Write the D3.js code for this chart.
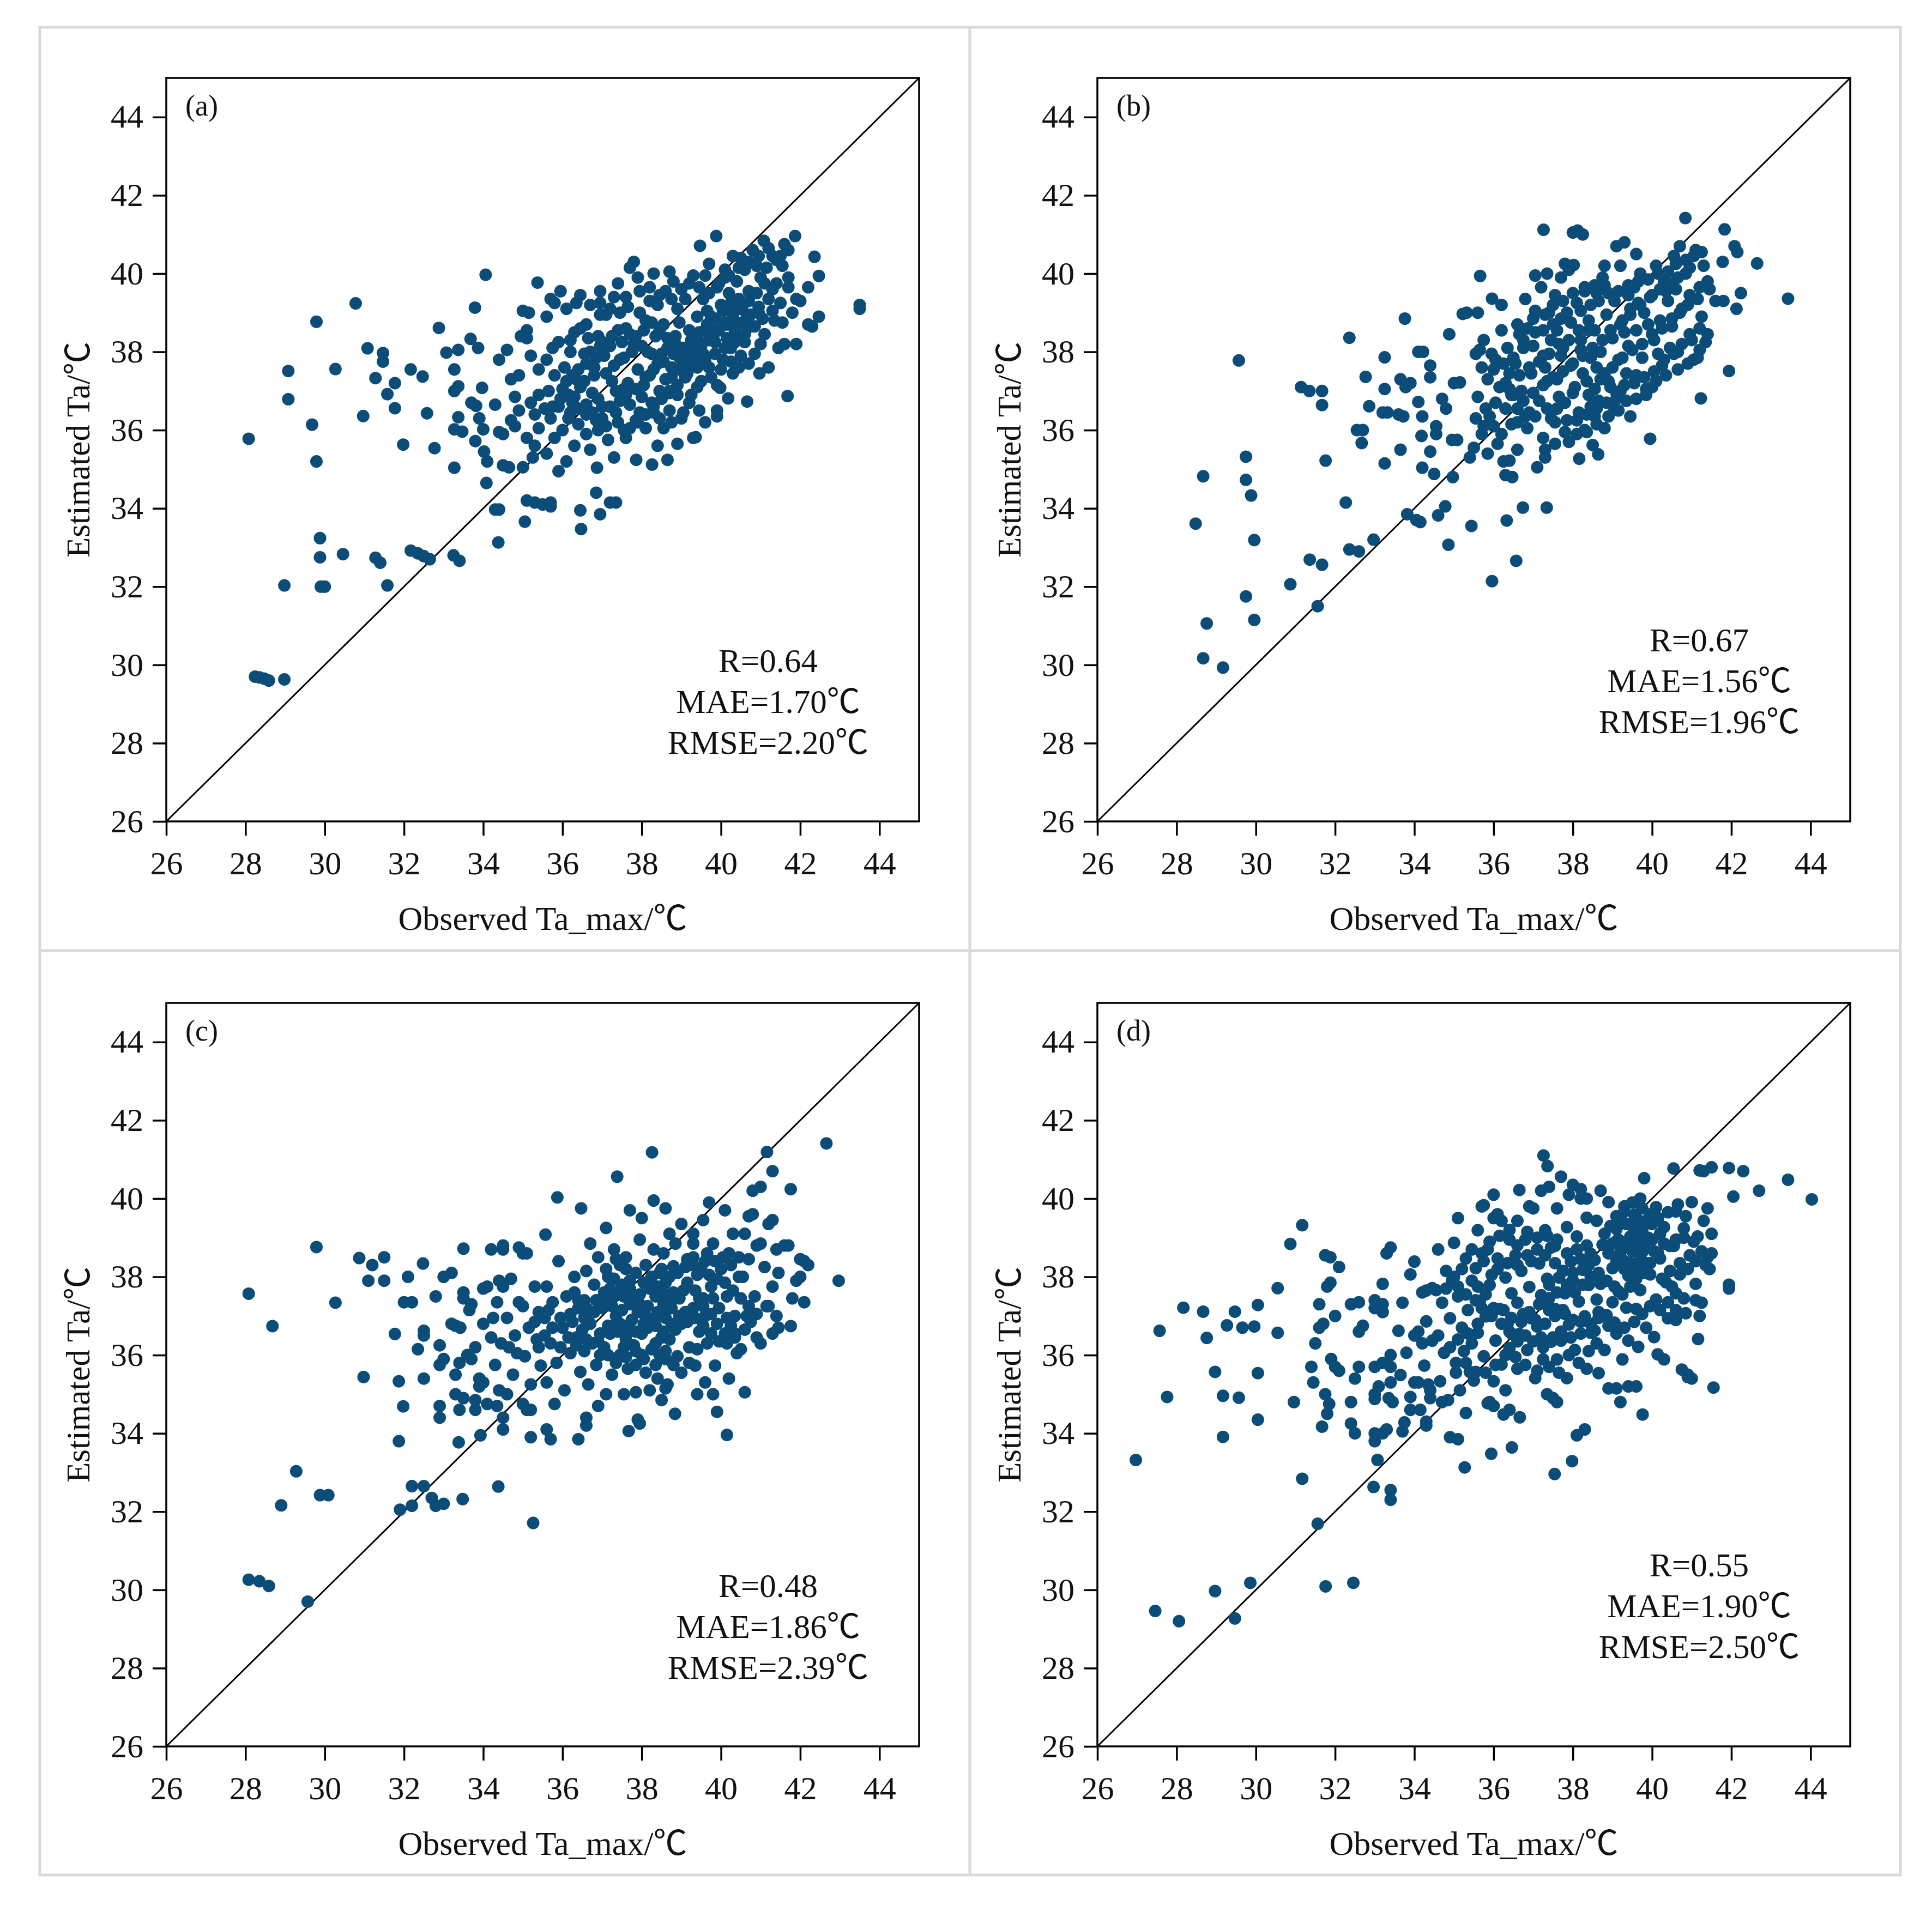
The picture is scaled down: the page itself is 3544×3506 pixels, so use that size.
<!DOCTYPE html>
<html>
<head>
<meta charset="utf-8">
<script src="https://cdn.jsdelivr.net/npm/d3@7"></script>
<style>
  html, body { margin: 0; padding: 0; background: #ffffff; }
  svg { display: block; }
</style>
</head>
<body>
<script>
// ---------------- DATA ----------------
const panelLabels = ["(a)", "(b)", "(c)", "(d)"];
const rValues = ["0.64", "0.67", "0.48", "0.55"];
const maeValues = ["1.70", "1.56", "1.86", "1.90"];
const rmseValues = ["2.20", "1.96", "2.39", "2.50"];
const tickValues = [26, 28, 30, 32, 34, 36, 38, 40, 42, 44];
const axisDomain = [26, 45];
const xLabel = "Observed Ta_max/℃";
const yLabel = "Estimated Ta/℃";

// [observed, estimated]
const panelA = [
[28.08,35.78],[29.79,38.77],[29.08,37.51],[29.08,36.79],[29.68,36.14],[29.79,35.2],[29.88,33.24],[29.88,32.75],[29.9,32.0],[30.0,32.0],[28.98,32.03],[30.46,32.83],[28.24,29.7],[28.35,29.68],[28.47,29.65],[28.59,29.6],[28.98,29.63],[30.78,39.24],[31.08,38.09],[30.27,37.56],[30.97,36.36],[31.28,37.33],[31.47,37.97],[31.47,37.75],[31.58,36.92],[31.77,37.2],[31.77,36.56],[31.98,35.63],[32.17,37.55],[32.47,37.37],[32.58,36.43],[32.77,35.54],[32.88,38.61],[33.07,37.98],[33.27,37.55],[33.37,38.05],[33.27,37.0],[33.37,37.12],[33.27,36.02],[33.37,36.33],[33.27,35.04],[33.47,35.96],[31.28,32.74],[31.4,32.61],[31.58,32.03],[32.17,32.92],[32.35,32.85],[32.5,32.78],[32.65,32.7],[33.25,32.8],[33.4,32.66],
[34.06,39.97],[33.79,39.13],[33.68,38.33],[33.87,38.1],[33.97,37.08],[33.7,36.7],[33.82,36.62],[33.9,36.3],[34.0,36.02],[33.8,35.72],[34.02,35.45],[34.1,35.2],[34.08,34.65],[34.3,33.97],[34.4,33.97],[34.38,33.13],[34.3,36.65],[34.4,37.8],[34.6,38.05],[34.5,35.9],[34.4,35.95],[34.5,35.1],[34.65,35.05],[34.9,37.4],[35.0,39.05],[35.15,39.0],[35.1,38.55],[35.1,38.35],[35.37,39.77],[35.1,34.2],[35.3,34.15],[35.5,34.1],[35.7,34.15],[35.7,34.05],[35.05,33.66],[35.0,35.05],[36.47,33.47],[36.45,33.95],[36.85,34.4],[36.95,33.85],[37.2,34.15],[37.35,34.15],
[34.8,36.85],[35.2,36.7],[34.9,36.5],[35.3,36.4],[34.7,36.25],[35.4,36.05],[35.1,35.8],[35.3,35.6],[34.7,37.3],[35.4,37.55],[35.2,37.9],[34.95,38.4],[35.4,36.9],[35.25,35.3],[34.8,36.1],
[35.95,39.55],[35.7,39.35],[35.8,39.25],[36.1,39.1],[35.6,38.9],[36.3,38.5],[35.9,38.25],[36.2,38.0],[35.6,37.8],[36.4,37.55],[35.8,37.4],[36.1,37.25],[35.65,37.0],[36.3,36.85],[35.9,36.6],[36.2,36.45],[35.7,36.3],[36.4,36.15],[36.0,36.0],[35.8,35.8],[36.3,35.6],[35.6,35.4],[36.1,35.2],[35.9,34.95],[36.25,36.7],[35.55,36.55],[36.45,37.1],[35.75,38.1],[36.35,39.25],[36.05,37.6],
[36.95,39.55],[37.3,39.4],[36.7,39.2],[37.1,38.95],[36.6,38.7],[37.4,38.55],[36.9,38.4],[37.2,38.15],[36.7,38.0],[37.45,37.8],[36.8,37.6],[37.1,37.45],[36.55,37.25],[37.35,37.0],[36.9,36.8],[37.2,36.6],[36.6,36.4],[37.4,36.2],[36.9,36.0],[37.15,35.75],[36.7,35.5],[37.3,35.3],[36.87,35.04],[37.0,36.3],[36.75,36.95],[37.3,37.65],[37.0,38.25],[36.6,35.9],[37.45,36.75],[36.8,37.4],
[37.8,40.3],[37.7,40.15],[38.3,40.0],[37.9,39.9],[38.2,39.65],[37.6,39.4],[38.4,39.2],[37.95,39.0],[38.1,38.8],[37.6,38.6],[38.35,38.4],[37.8,38.2],[38.15,38.0],[37.55,37.85],[38.4,37.7],[37.9,37.55],[38.2,37.4],[37.65,37.2],[38.45,37.0],[38.0,36.85],[37.7,36.65],[38.3,36.45],[37.85,36.25],[38.1,36.05],[37.6,35.8],[38.4,35.6],[38.26,35.12],[37.86,35.24],[38.05,37.15],[37.75,38.0],[38.25,36.7],[37.95,36.45],
[38.7,40.05],[38.8,39.8],[39.3,39.95],[38.6,39.55],[39.1,39.35],[38.9,39.1],[39.4,38.9],[38.55,38.7],[39.2,38.55],[38.85,38.4],[39.45,38.25],[38.65,38.1],[39.05,37.95],[39.35,37.8],[38.75,37.6],[39.15,37.45],[38.6,37.3],[39.4,37.1],[38.9,36.9],[39.2,36.7],[38.7,36.5],[39.0,36.3],[38.55,36.05],[39.3,35.8],[38.9,35.65],[38.65,35.24],[39.36,35.82],[38.8,37.95],[39.25,38.1],[38.95,38.75],[38.7,36.95],[39.45,36.5],
[39.88,40.96],[39.47,40.71],[40.3,40.45],[39.7,40.25],[40.1,40.1],[39.6,39.95],[40.4,39.8],[39.9,39.65],[40.2,39.5],[39.55,39.35],[40.0,39.2],[40.35,39.05],[39.75,38.9],[40.15,38.7],[39.6,38.55],[40.45,38.4],[39.85,38.25],[40.25,38.1],[39.55,37.95],[40.05,37.8],[39.7,37.6],[40.3,37.45],[39.9,37.15],[40.18,36.81],[39.98,37.08],[39.9,36.35],[39.9,36.5],[39.6,36.2],[40.1,39.9],[39.8,38.4],[40.4,38.75],[39.65,39.05],
[41.08,40.84],[40.8,40.6],[41.3,40.45],[40.6,40.1],[41.0,39.9],[41.4,39.75],[40.7,39.55],[41.2,39.35],[40.55,39.2],[40.95,39.0],[41.35,38.8],[40.75,38.65],[41.1,38.45],[40.6,38.25],[41.45,38.1],[40.85,37.95],[40.97,37.45],[41.2,37.6],[40.66,36.73],[40.5,40.4],[41.0,38.2],[40.65,38.95],
[41.87,40.96],[41.6,40.75],[41.7,40.6],[41.5,40.45],[41.55,40.2],[41.9,39.35],[42.0,39.3],[41.7,39.9],[41.7,39.65],[41.9,38.2],[41.6,38.2],[41.68,36.87],[42.36,40.43],[42.47,39.94],[42.2,39.65],[42.47,38.9],[42.2,38.7],[42.3,38.65],[43.5,39.2],[43.5,39.1],[41.8,39.0],[41.55,38.75],
[36.6,37.7],[36.85,37.85],[37.05,37.9],[37.25,38.4],[37.5,38.25],[37.7,38.45],[37.45,39.0],[37.65,39.15],[37.2,39.1],[36.95,38.95],[36.45,38.6],[36.2,38.3],[36.55,37.95],[36.35,37.3],[36.15,36.9],[36.6,36.65],[36.85,36.25],[37.1,36.1],[37.55,36.0],[37.35,36.45],[37.6,36.9],[37.85,37.05],[38.1,37.35],[38.3,37.55],[38.55,37.75],[38.75,37.35],[38.95,37.55],[39.1,37.75],[39.3,37.95],[39.5,38.15],[39.75,38.35],[39.95,38.55],[40.15,38.35],[40.35,38.55],[40.55,38.75],[40.75,38.95],[40.95,39.15],[40.45,39.35],[40.25,39.25],[40.05,39.05],[39.85,38.85],[39.65,38.7],[39.45,38.5],[39.25,38.3],[39.05,38.1],[38.85,38.2],[38.65,38.35],[38.45,38.55],[38.25,38.75],[38.05,38.55],[37.85,38.4],[38.0,38.15],[38.25,37.95],[38.5,37.95],[38.75,38.05],[38.95,37.85],[39.15,37.65],[39.4,37.6],[39.6,37.8],[39.85,37.95],[40.1,38.1],[40.35,38.25],[40.6,38.45],[40.85,38.65],[41.05,38.85],[41.3,39.05],[41.5,39.25],[41.3,39.6],[41.1,39.75],[40.9,39.5],[40.7,39.3],[40.5,39.1],[40.3,38.9],[40.1,38.75],[39.9,38.55],[39.7,38.3],[39.5,38.0],[39.3,37.7],[39.1,37.35],[38.9,37.15],[38.7,37.0],[38.5,36.8],[38.3,36.6],[38.1,36.4],[37.9,36.2],[37.7,36.05],[38.45,36.3],[38.75,36.2],[39.05,36.45],[39.25,36.9],[39.5,37.25],[39.75,37.35],[40.0,37.55],[40.25,37.75],[40.5,37.9],[40.7,37.7],[40.45,37.6],[39.7,39.5],[39.95,39.75],[40.2,39.95],[40.45,40.15],[40.7,40.3],[40.95,40.45],[41.2,40.65],[41.4,40.35],[41.15,40.15],[40.9,40.2],[39.45,39.65],[39.2,39.75],[39.0,39.6],[38.75,39.35],[38.45,39.45],[38.2,39.3],[37.95,39.55],[37.4,39.75],[36.95,39.25],[36.45,39.45],[36.65,38.35],[36.95,38.15],[37.25,37.25],[37.55,37.05],[37.0,36.6],[36.75,36.45],[36.4,36.55],[36.15,36.3],[35.95,36.8],[35.75,36.6],[36.0,37.05],[36.25,37.4]
];

const panelB = [
[28.48,33.61],[28.67,34.82],[28.76,31.06],[28.67,30.17],[29.17,29.93],[29.57,37.78],[29.75,35.32],[29.75,34.73],[29.88,34.33],[29.96,33.19],[29.75,31.75],[29.96,31.15],[30.87,32.06],[31.14,37.1],[31.35,37.0],[31.67,37.0],[31.67,36.64],[31.76,35.22],[31.36,32.69],[31.67,32.56],[31.56,31.5],[32.27,34.15],[32.36,38.36],[32.36,32.95],[32.6,32.9],[32.97,33.2],[32.55,36.0],[32.7,36.0],[32.67,35.67],[32.77,37.36],[32.86,36.61],[33.2,36.45],[33.32,36.45],[33.25,37.05],[33.25,37.86],[33.25,35.15],[33.6,36.4],[33.72,36.35],[33.65,37.3],[33.78,37.1],[33.9,37.2],[33.76,38.85],[33.65,35.5],[33.82,33.85],[34.05,33.7],[34.15,33.65],[34.1,38.0],[34.22,38.0],[34.4,37.65],[34.4,37.35],[34.1,36.72],[34.2,36.35],[34.18,35.85],[34.4,35.45],[34.2,35.04],[34.5,34.88],[34.6,33.82],[34.78,34.05],[34.86,33.07],[34.55,36.1],[34.55,35.9],[34.7,36.8],[34.8,36.55],[34.88,38.45],[35.0,37.2],[35.15,37.22],[35.22,38.97],[35.32,39.0],[34.95,35.75],[35.08,35.75],[34.97,34.8],[35.44,33.55],[35.4,35.3],[35.5,35.55],[35.66,39.94],[35.96,32.14],[36.57,32.66],[36.33,33.69],[36.3,34.85],[36.47,34.8],[36.4,35.22],[36.74,34.02],[37.34,34.02],[37.1,35.05],[37.3,35.3],[37.3,35.5],[38.16,35.27],[38.64,35.38],[38.5,35.62],[39.95,35.78],[41.23,36.81],[41.94,37.51],[43.43,39.36],[42.65,40.26],[42.24,39.5],[42.13,39.1],[42.15,40.55],[42.08,40.7],[41.83,41.13],[41.78,40.3],[41.6,39.3],[41.8,39.3],[40.84,41.42],[37.26,41.12],[38.0,41.05],[38.12,41.1],[38.25,41.0],[39.1,40.7],[39.3,40.8],[39.6,40.5],[38.8,40.2],[37.8,40.25],[37.9,40.1],[38.02,40.22],[37.35,40.0],[37.05,39.95],
[35.96,39.36],[35.6,39.0],[36.2,38.55],[35.75,38.3],[36.35,38.1],[35.55,37.95],[36.05,37.8],[35.7,37.6],[36.4,37.45],[35.85,37.3],[36.15,37.1],[35.6,36.85],[36.3,36.55],[35.9,36.35],[36.45,36.15],[35.7,35.9],[36.1,35.65],[35.85,35.4],[36.25,35.2],[35.95,37.95],[36.45,36.9],[35.65,38.05],[36.2,39.2],
[37.2,39.65],[36.8,39.35],[37.4,39.0],[36.6,38.7],[37.05,38.5],[37.45,38.3],[36.75,38.1],[37.25,37.9],[36.55,37.7],[36.95,37.45],[37.35,37.25],[36.7,37.0],[37.15,36.75],[36.6,36.55],[37.45,36.3],[36.85,36.05],[37.25,35.8],[36.6,35.5],[37.0,38.85],[36.9,36.45],[37.3,37.6],[36.65,38.45],
[37.7,39.9],[38.3,39.65],[37.55,39.45],[38.1,39.25],[37.85,39.0],[38.4,38.8],[37.6,38.55],[38.2,38.3],[37.75,38.1],[38.45,37.85],[37.95,37.65],[38.25,37.45],[37.6,37.3],[38.05,37.1],[38.4,36.9],[37.8,36.7],[38.15,36.45],[37.55,36.2],[38.3,36.0],[37.9,35.7],[38.35,37.25],[37.7,37.9],[38.0,36.95],[38.45,36.6],[37.65,36.85],[38.2,38.05],
[39.2,40.2],[38.75,39.9],[39.4,39.7],[38.6,39.5],[39.05,39.3],[39.45,39.1],[38.85,38.95],[39.25,38.8],[38.55,38.55],[39.0,38.35],[39.4,38.15],[38.7,38.0],[39.15,37.8],[38.6,37.6],[39.35,37.45],[38.9,37.25],[39.2,37.0],[38.65,36.75],[39.05,36.55],[39.45,36.35],[38.8,36.05],[38.95,37.1],[39.3,38.5],[38.7,37.3],[39.1,36.8],[38.55,36.35],
[40.1,40.2],[39.7,40.0],[40.3,39.8],[39.55,39.65],[40.0,39.45],[40.4,39.3],[39.8,39.0],[40.2,38.8],[39.6,38.55],[40.05,38.3],[40.45,38.1],[39.75,37.85],[40.25,37.65],[39.6,37.4],[40.0,37.1],[39.85,36.9],[40.35,39.55],[39.9,38.7],[40.15,37.95],[39.65,39.25],
[40.7,40.7],[41.1,40.6],[40.55,40.45],[41.3,40.2],[40.85,40.0],[41.4,39.8],[40.6,39.6],[41.15,39.35],[40.75,39.1],[41.25,38.9],[40.5,38.65],[40.95,38.45],[41.35,38.25],[40.65,38.0],[41.05,37.8],[41.45,39.6],[40.9,39.2],[41.2,38.6],
[36.0,37.55],[36.25,37.7],[36.5,37.85],[36.75,38.3],[37.0,38.15],[37.25,38.55],[37.5,38.7],[37.7,38.85],[37.95,38.75],[38.2,39.05],[38.45,39.2],[38.65,39.3],[38.9,39.5],[39.15,39.55],[39.4,39.45],[39.65,39.8],[39.9,39.85],[40.15,40.0],[40.4,40.05],[40.6,40.25],[40.85,40.35],[41.05,40.45],[41.25,40.55],[40.95,40.15],[40.65,39.9],[40.45,39.75],[40.2,39.6],[39.95,39.4],[39.7,39.2],[39.45,38.95],[39.2,38.7],[38.95,38.55],[38.75,38.3],[38.5,38.1],[38.25,37.9],[38.0,37.7],[37.75,37.5],[37.5,37.35],[37.25,37.15],[37.0,36.95],[36.75,36.75],[36.5,36.9],[36.3,37.2],[36.05,36.7],[35.8,36.55],[35.55,36.3],[35.75,36.1],[36.0,36.1],[36.2,35.9],[36.6,36.2],[36.8,36.35],[37.05,36.35],[37.35,36.55],[37.6,36.55],[37.85,36.25],[38.1,36.25],[38.35,36.4],[38.6,36.55],[38.85,36.7],[39.1,36.95],[39.3,37.15],[39.55,37.2],[39.8,37.35],[40.05,37.5],[40.3,37.8],[40.55,37.95],[40.75,38.2],[41.0,38.3],[41.2,38.05],[41.4,38.45],[41.15,37.85],[40.9,37.7],[40.65,37.55],[40.35,37.4],[40.1,37.25],[39.85,37.05],[39.6,36.8],[39.35,36.75],[39.15,36.5],[38.9,36.35],[38.6,36.15],[38.35,35.95],[38.1,35.9],[37.8,35.95],[37.55,35.65],[38.55,37.05],[38.8,37.45],[39.0,37.6],[39.25,37.85],[39.5,38.05],[39.75,38.2],[40.0,38.45],[40.25,38.6],[40.5,38.85],[40.7,39.0],[40.95,39.45],[41.2,39.65],[38.4,38.55],[38.15,38.55],[37.9,38.3],[37.65,38.2],[37.4,37.95],[37.15,37.75],[36.9,37.6],[36.65,37.4],[36.4,37.05],[37.5,39.2],[37.75,39.3],[38.0,39.5],[38.3,39.55],[38.55,39.7],[38.8,39.7],[37.3,38.95],[37.05,39.05],[36.85,38.6]
];

const panelC = [
[28.08,37.57],[28.68,36.74],[28.08,30.26],[28.35,30.22],[28.59,30.1],[28.9,32.16],[29.28,33.03],[29.57,29.7],[29.79,38.76],[29.88,32.42],[30.09,32.42],[30.27,37.34],[30.87,38.48],[30.98,35.44],[31.2,38.3],[31.1,37.9],[31.5,38.5],[31.5,37.9],[31.77,36.54],[31.87,35.33],[31.98,34.69],[31.87,33.8],[31.9,32.05],[32.2,32.15],[32.2,32.65],[32.5,32.65],[32.7,32.35],[32.8,32.15],[33.0,32.2],[33.48,32.32],[34.38,32.64],[35.26,31.71],[33.38,33.77],[32.0,37.35],[32.2,37.35],[32.1,38.0],[32.48,38.34],[32.35,36.15],[32.5,36.5],[32.5,36.62],[32.5,35.4],[32.8,37.5],[33.0,38.0],[33.2,38.1],[32.9,36.25],[33.0,35.9],[32.9,35.75],[32.9,34.7],[32.9,34.4],[33.3,36.75],[33.42,36.7],[33.2,36.8],[33.3,35.5],[33.4,35.8],[33.3,35.0],[33.4,34.6],[33.5,34.9],[33.5,38.72],[33.5,37.6],[33.5,37.45],[33.7,37.3],[33.7,35.9],[33.8,34.85],[33.8,34.6],[33.9,35.2],[34.0,37.7],[34.1,37.75],[34.0,36.8],[34.0,35.3],[33.93,33.95],[34.2,38.7],[34.5,38.8],[34.5,38.7],[34.4,37.9],[34.5,37.75],[34.35,37.35],[34.5,34.1],[34.5,34.4],[34.35,34.7],[34.9,38.75],[35.0,38.6],[35.1,38.6],[35.0,37.25],[35.1,34.6],[35.2,34.6],[35.2,33.9],[35.6,34.1],[35.7,33.85],[35.57,39.08],[35.87,40.03],[36.47,39.75],[36.4,33.85],[36.6,34.2],[36.6,34.4],[37.38,40.56],[37.7,39.7],[38.0,39.5],[38.26,41.18],[38.3,39.95],[38.6,39.75],[37.67,34.06],[37.9,34.35],[37.95,34.25],[37.55,35.0],[37.85,35.05],[38.5,34.85],[38.6,35.15],[38.84,34.5],[39.4,35.0],[39.6,35.3],[39.8,35.0],[39.9,34.55],[40.15,33.96],[40.2,35.4],[40.6,35.05],[40.5,36.15],[41.16,41.19],[41.3,40.7],[40.8,40.2],[41.0,40.3],[40.7,39.55],[41.3,39.45],[41.76,40.24],[42.66,41.41],[42.97,37.9],[42.2,38.3],[42.0,38.45],[42.0,38.0],[42.1,37.35],[41.8,37.45],[41.76,36.74],[41.4,37.0],[41.3,36.55],[41.0,36.3],[41.2,37.25],[41.6,38.8],[40.9,38.8],
[33.8,36.2],[34.2,36.45],[33.6,36.0],[34.3,35.75],[33.9,35.4],[34.4,35.1],[34.1,34.75],[34.25,36.95],[33.65,37.15],[34.45,36.3],
[34.7,37.95],[35.3,37.75],[34.9,37.35],[35.4,37.1],[34.6,36.95],[35.15,36.7],[34.8,36.5],[35.35,36.4],[34.65,36.2],[35.05,35.97],[35.45,35.73],[34.75,35.5],[35.2,35.25],[34.6,35.0],[35.0,34.75],[35.3,36.85],[34.85,36.05],
[35.9,38.4],[36.3,38.0],[35.6,37.75],[36.1,37.5],[35.75,37.35],[36.4,37.2],[35.55,36.95],[36.0,36.7],[36.35,36.45],[35.7,36.3],[36.2,36.05],[35.85,35.8],[36.45,35.57],[35.6,35.3],[36.05,35.1],[35.8,34.75],[36.25,36.85],[35.95,36.2],[36.3,37.6],[35.65,37.15],
[37.1,39.25],[36.7,38.85],[37.3,38.7],[36.9,38.5],[37.45,38.3],[36.6,38.15],[37.15,38.0],[36.8,37.8],[37.4,37.6],[36.55,37.4],[37.0,37.2],[37.35,37.0],[36.7,36.8],[37.2,36.55],[36.6,36.4],[37.05,36.2],[37.45,36.0],[36.85,35.75],[37.25,35.5],[36.65,35.25],[37.1,35.0],[36.9,34.7],[36.75,37.1],[37.3,36.75],[36.95,36.0],[37.2,37.7],
[37.95,38.95],[38.3,38.7],[37.6,38.5],[38.1,38.3],[38.45,38.1],[37.7,37.9],[38.2,37.7],[37.55,37.5],[37.95,37.3],[38.4,37.1],[37.75,36.9],[38.15,36.7],[37.6,36.5],[38.35,36.3],[37.85,36.1],[38.05,35.9],[37.65,35.65],[38.4,35.4],[38.2,35.1],[38.0,36.55],[38.3,36.9],[37.8,37.5],[38.45,36.0],[37.55,36.2],
[39.0,39.35],[38.7,39.1],[39.3,38.85],[38.55,38.6],[39.15,38.45],[38.8,38.27],[39.4,38.05],[38.6,37.85],[39.05,37.65],[38.75,37.4],[39.3,37.2],[38.55,37.0],[39.0,36.8],[39.45,36.6],[38.7,36.4],[39.2,36.2],[38.9,35.97],[39.35,35.73],[38.65,35.25],[39.1,37.1],[38.85,36.65],[39.25,38.3],[38.6,36.1],[39.45,37.45],
[39.7,39.9],[40.1,39.7],[39.55,39.45],[40.3,39.1],[39.8,38.85],[40.2,38.6],[39.6,38.4],[40.0,38.2],[40.45,38.0],[39.75,37.75],[40.15,37.5],[39.55,37.25],[40.35,37.0],[39.9,36.8],[40.1,36.55],[39.65,36.3],[40.4,36.05],[39.85,35.73],[40.25,36.75],[39.6,37.0],
[40.8,39.6],[41.2,39.35],[40.6,39.1],[41.0,38.85],[41.4,38.7],[40.7,38.45],[41.1,38.25],[40.55,38.0],[41.3,37.75],[40.85,37.5],[41.15,37.25],[40.65,37.0],[41.45,36.7],[40.9,36.45],[41.45,38.1],[40.75,36.85],
[41.7,38.8],[42.1,38.4],[41.9,37.9],
[36.55,36.95],[36.8,37.1],[37.05,37.4],[37.25,37.25],[37.5,37.15],[37.7,37.3],[37.9,37.1],[38.1,37.0],[38.35,36.75],[38.55,36.6],[38.75,36.8],[38.95,37.0],[39.15,36.85],[39.35,36.95],[39.55,36.75],[39.75,36.55],[39.95,36.35],[40.15,36.3],[40.35,36.45],[39.75,37.05],[39.55,37.45],[39.35,37.65],[39.15,37.85],[38.95,37.45],[38.75,37.2],[38.55,37.3],[38.35,37.5],[38.15,37.25],[37.95,37.55],[37.7,37.7],[37.5,37.8],[37.3,37.95],[37.1,38.2],[37.35,38.45],[37.6,38.2],[37.85,38.1],[38.05,37.85],[38.25,38.0],[38.5,38.2],[38.7,38.0],[38.9,38.1],[39.1,38.25],[39.3,38.5],[39.5,38.25],[39.7,38.05],[39.9,37.95],[40.1,37.85],[40.3,37.65],[40.5,37.45],[40.7,37.25],[40.9,37.05],[40.6,36.65],[40.35,36.55],[40.15,36.95],[39.95,37.2],[39.8,37.45],[38.5,36.45],[38.25,36.15],[38.0,36.0],[37.8,36.25],[37.6,36.4],[37.4,36.6],[37.15,36.75],[36.95,36.55],[36.75,36.3],[36.55,36.1],[36.35,36.25],[36.15,36.45],[36.5,36.65],[36.9,36.35],[37.15,36.0],[37.35,35.8],[37.6,35.95],[37.85,35.75],[38.1,35.55],[38.35,35.75],[38.6,35.9],[38.8,35.75],[39.0,35.55],[39.2,35.8],[39.4,36.15],[38.6,36.95],[38.8,37.6],[38.6,37.55],[38.4,37.75],[38.2,37.9],[37.65,36.75],[37.45,36.8],[37.85,36.6],[38.05,36.8],[36.85,37.4],[37.05,37.6],[37.25,37.45],[36.6,37.2],[36.4,37.4],[36.2,37.05],[35.95,36.95],[35.75,36.7],[35.55,36.5],[35.4,36.2],[39.65,38.6],[39.85,38.4],[40.05,38.5],[40.25,38.3],[40.45,38.5],[39.3,39.1],[38.85,38.85]
];

const panelD = [
[26.97,33.32],[27.57,36.62],[27.76,34.93],[28.17,37.21],[28.67,37.11],[28.76,36.44],[28.97,35.57],[29.17,34.96],[29.17,33.91],[29.27,36.76],[29.47,37.11],[29.66,36.7],[29.96,36.73],[29.57,34.91],[30.05,37.28],[30.05,35.54],[30.05,34.35],[30.55,37.71],[30.55,36.57],[30.87,38.84],[30.96,34.8],[31.17,39.32],[31.17,32.84],[27.46,29.46],[28.06,29.2],[28.97,29.97],[29.47,29.27],[29.86,30.18],[31.76,30.09],[32.46,30.18],[31.56,31.69],[32.97,32.63],[33.4,32.55],[33.4,32.3],[33.07,33.32],[31.4,35.7],[31.45,35.3],[31.5,36.3],[31.6,36.7],[31.7,36.8],[31.6,37.3],[31.75,38.55],[31.88,38.5],[31.8,37.75],[31.88,37.85],[31.67,34.17],[31.8,34.5],[31.85,34.75],[31.75,35.0],[31.9,35.9],[32.0,35.7],[32.1,35.6],[32.0,37.0],[32.1,38.25],[32.4,37.3],[32.6,37.35],[32.4,34.8],[32.4,34.25],[32.5,34.0],[32.5,35.4],[32.6,35.7],[32.6,36.6],[32.7,36.75],[33.0,37.2],[33.0,37.4],[33.2,37.1],[33.2,37.3],[33.2,37.82],[33.3,38.6],[33.4,38.75],[33.0,35.7],[33.2,35.8],[33.0,35.0],[33.0,34.88],[33.1,35.2],[33.0,34.0],[33.0,33.8],[33.2,34.0],[33.3,34.1],[33.4,35.7],[33.4,35.3],[33.35,34.9],[33.45,34.8],[33.4,36.0],[33.7,34.05],[33.9,34.6],[34.0,38.39],[34.0,36.5],[34.1,36.6],[34.2,36.3],[34.2,37.6],[34.3,37.65],[34.0,35.3],[34.1,35.3],[34.3,34.2],[34.3,34.3],[34.4,34.9],[34.4,35.1],[34.7,34.8],[34.9,33.9],[35.1,33.85],[35.27,33.13],[35.94,33.48],[36.46,33.64],[37.54,32.96],[37.98,33.29],[38.1,33.95],[38.3,34.1],[37.5,34.9],[37.6,34.8],[36.66,34.41],[36.4,34.6],[35.9,34.8],[36.0,34.7],[39.76,34.48],[39.2,34.8],[39.4,35.2],[39.6,35.2],[38.9,35.15],[39.1,35.15],[41.55,35.17],[40.9,35.5],[41.0,35.4],[41.16,36.41],[40.14,36.02],[41.2,37.0],[41.1,37.4],[40.6,36.9],[41.94,37.7],[41.94,37.8],[41.94,40.78],[42.05,40.05],[42.3,40.7],[42.7,40.2],[43.43,40.48],[44.03,39.98],[41.5,40.8],[41.3,40.7],[41.2,40.72],[41.4,39.75],[41.5,39.1],[41.4,38.5],[41.5,38.6],[40.54,40.77],[39.8,40.52],[37.26,41.1],[37.36,40.83],[38.0,40.35],[37.9,40.1],[38.2,40.0],[38.35,40.0],[38.7,40.2],[37.2,40.2],[37.4,40.3],[36.65,40.22],[36.0,40.1],[35.7,39.8],[35.1,39.5],[36.1,39.6],[36.0,39.5],[36.9,39.8],
[33.9,38.06],[34.45,37.71],[33.7,37.34],[34.3,36.86],[33.6,36.62],[34.45,36.37],[33.8,36.06],[34.25,35.73],[33.65,35.49],[34.35,35.25],[33.9,34.93],[34.15,34.6],[33.75,34.28],
[35.0,38.87],[34.6,38.7],[35.3,38.47],[34.8,38.15],[35.45,37.9],[34.55,37.66],[35.1,37.5],[34.7,37.34],[35.35,37.15],[34.9,36.94],[35.2,36.7],[34.6,36.5],[35.45,36.3],[34.75,36.06],[35.05,35.8],[35.4,35.57],[34.65,35.33],[35.15,35.1],[34.85,34.85],[35.3,34.52],[34.95,37.9],[35.25,36.1],
[35.75,39.83],[36.2,39.43],[35.6,39.19],[36.4,38.95],[35.85,38.7],[36.1,38.47],[35.55,38.22],[36.3,37.98],[35.9,37.79],[36.45,37.58],[35.65,37.37],[36.15,37.18],[35.8,36.99],[36.35,36.78],[35.6,36.57],[36.05,36.37],[36.4,36.18],[35.75,35.97],[36.2,35.76],[35.55,35.57],[36.0,35.33],[36.3,35.1],[35.85,34.77],[36.25,34.48],[35.95,38.05],[36.45,36.55],
[37.0,39.75],[36.6,39.43],[37.3,39.19],[36.8,38.95],[37.45,38.75],[36.55,38.55],[37.15,38.34],[36.7,38.15],[37.35,37.95],[36.9,37.74],[37.2,37.53],[36.6,37.34],[37.4,37.15],[36.95,36.94],[37.1,36.73],[36.65,36.54],[37.45,36.34],[36.85,36.13],[37.25,35.89],[36.6,35.65],[37.05,35.41],[37.35,35.0],[36.75,37.05],[37.2,36.45],[36.95,38.4],[37.4,37.8],
[37.7,40.56],[38.2,40.24],[37.6,39.75],[38.35,39.51],[37.85,39.27],[38.1,39.03],[37.55,38.79],[38.45,38.59],[37.95,38.39],[38.25,38.18],[37.65,37.98],[38.4,37.79],[37.8,37.58],[38.15,37.37],[37.55,37.18],[38.3,36.99],[37.9,36.78],[38.45,36.57],[37.7,36.37],[38.05,36.13],[37.6,35.89],[38.35,35.65],[37.85,35.41],[38.2,36.85],[37.75,37.15],[38.0,37.9],[38.4,38.3],
[38.9,39.91],[39.3,39.67],[38.6,39.43],[39.1,39.22],[39.45,39.03],[38.75,38.82],[39.2,38.63],[38.55,38.43],[39.0,38.22],[39.4,38.03],[38.7,37.82],[39.15,37.63],[38.6,37.42],[39.35,37.21],[38.85,37.02],[39.05,36.83],[38.55,36.62],[39.4,36.37],[38.8,36.13],[39.25,35.89],[38.65,35.54],[39.0,37.35],[39.3,38.4],[38.9,38.6],[39.45,38.8],[38.65,37.1],
[39.7,40.0],[40.1,39.78],[39.55,39.59],[39.85,39.43],[40.3,39.27],[39.65,39.11],[40.0,38.95],[40.45,38.79],[39.75,38.63],[40.2,38.47],[39.55,38.27],[39.95,38.06],[40.35,37.86],[39.7,37.66],[40.1,37.42],[39.6,37.18],[40.4,36.94],[39.85,36.7],[40.05,36.46],[39.65,36.21],[40.3,35.89],[39.9,39.0],[39.8,38.8],[40.15,38.6],[39.6,38.9],[40.0,39.35],
[41.0,39.91],[40.6,39.67],[41.3,39.43],[40.8,39.24],[41.15,39.03],[40.55,38.79],[40.95,38.55],[41.35,38.3],[40.7,38.06],[41.1,37.82],[40.6,37.58],[41.25,37.34],[40.85,37.07],[40.75,35.63],[40.9,35.44],[41.45,38.2],
[39.2,39.5],[39.35,39.35],[39.5,39.3],[39.65,39.45],[39.75,39.2],[39.55,39.05],[39.35,38.9],[39.15,38.95],[39.25,38.75],[39.5,38.65],[39.7,38.5],[39.85,38.35],[39.65,38.2],[39.45,38.35],[39.3,38.2],[39.1,38.4],[39.0,38.85],[38.8,39.1],[38.95,39.3],[39.1,39.55],[39.3,39.8],[39.5,39.9],[39.75,39.75],[39.95,39.6],[40.15,39.5],[40.2,39.1],[40.3,38.85],[40.05,38.65],[39.95,38.35],[39.8,38.1],[39.6,37.95],[39.45,37.75],[39.25,37.55],[39.05,37.75],[38.85,37.9],[38.65,38.1],[38.45,38.0],[38.25,37.8],[38.05,37.6],[37.85,37.8],[37.6,37.6],[37.4,37.45],[37.15,37.3],[36.9,37.1],[36.7,36.85],[36.45,36.95],[36.25,37.15],[36.0,37.2],[35.8,37.55],[35.6,37.75],[35.75,38.4],[36.1,38.2],[36.35,38.35],[36.6,38.3],[36.85,38.55],[37.1,38.7],[37.3,38.55],[37.55,38.35],[37.75,38.15],[38.0,38.1],[38.2,38.45],[38.35,38.8],[38.1,38.7],[37.85,38.6],[37.6,38.95],[37.35,39.05],[37.1,39.0],[36.85,39.15],[36.6,38.8],[36.4,39.2],[36.15,39.05],[35.9,38.9],[35.7,38.6],[35.45,38.7],[35.2,38.2],[35.0,38.0],[34.8,37.7],[35.1,37.75],[35.3,37.55],[35.55,37.4],[35.7,37.2],[35.95,37.0],[36.2,36.8],[36.4,36.6],[36.6,36.35],[36.8,36.5],[37.0,36.35],[37.25,36.2],[37.5,36.45],[37.7,36.6],[37.95,36.45],[38.2,36.55],[38.45,36.8],[38.65,36.95],[38.9,36.75],[39.1,36.55],[39.3,36.7],[39.55,36.85],[39.75,37.05],[39.95,37.25],[40.2,37.15],[40.4,37.35],[40.6,37.15],[40.8,37.45],[40.5,37.75],[40.25,37.95],[40.45,38.15],[40.7,38.35],[40.9,38.2],[41.1,38.4],[41.25,38.65],[41.05,38.9],[40.8,39.0],[40.6,38.95],[40.85,39.55],[40.65,39.85],[40.4,39.65],[38.0,36.9],[37.8,37.05],[37.55,37.0],[37.3,36.8],[37.05,36.9],[36.3,36.0],[36.05,35.75],[35.8,35.55],[35.5,35.35],[35.3,35.8],[35.05,35.55],[34.9,36.2],[35.1,36.4],[35.35,36.55],[35.6,36.8],[36.55,35.95],[36.8,35.75],[37.1,35.6],[37.4,35.7],[37.65,35.55],[37.9,36.0],[38.15,35.8],[38.4,36.1],[38.6,36.3]
];

const panelData = [panelA, panelB, panelC, panelD];

// ---------------- LAYOUT ----------------
const WIDTH = 3544, HEIGHT = 3506;
const FONT = "'Liberation Serif', 'Times New Roman', 'Noto Sans CJK SC', serif";
const DOT = "#0b4d78";
const plotW = 1381, plotH = 1364;
const origins = [[305, 143], [2013, 143], [305, 1840], [2013, 1840]];
const statsTop = [1090, 1052, 1090, 1052];

const svg = d3.select("body").append("svg")
  .attr("width", WIDTH).attr("height", HEIGHT)
  .style("background", "#ffffff");

svg.append("rect").attr("width", WIDTH).attr("height", HEIGHT).attr("fill", "#ffffff");

// panel frame (light grey)
const frame = svg.append("g").attr("stroke", "#d9d9d9").attr("stroke-width", 5).attr("fill", "none");
frame.append("rect").attr("x", 73).attr("y", 50).attr("width", 3413).attr("height", 3390);
frame.append("line").attr("x1", 1779).attr("x2", 1779).attr("y1", 50).attr("y2", 3440);
frame.append("line").attr("x1", 73).attr("x2", 3486).attr("y1", 1744).attr("y2", 1744);

panelData.forEach((data, i) => {
  const [ox, oy] = origins[i];
  const g = svg.append("g").attr("transform", `translate(${ox},${oy})`);
  const x = d3.scaleLinear().domain(axisDomain).range([0, plotW]);
  const y = d3.scaleLinear().domain(axisDomain).range([plotH, 0]);

  // 1:1 line
  g.append("line")
    .attr("x1", x(axisDomain[0])).attr("y1", y(axisDomain[0]))
    .attr("x2", x(axisDomain[1])).attr("y2", y(axisDomain[1]))
    .attr("stroke", "#000").attr("stroke-width", 3);

  // points
  g.append("g").selectAll("circle").data(data).join("circle")
    .attr("cx", d => x(d[0])).attr("cy", d => y(d[1]))
    .attr("r", 11.5).attr("fill", DOT);

  // axes
  const xa = g.append("g").attr("transform", `translate(0,${plotH})`)
    .call(d3.axisBottom(x).tickValues(tickValues).tickSize(26).tickPadding(28).tickFormat(d3.format("d")));
  const ya = g.append("g")
    .call(d3.axisLeft(y).tickValues(tickValues).tickSize(25).tickPadding(17).tickFormat(d3.format("d")));
  [xa, ya].forEach(a => {
    a.select(".domain").remove();
    a.selectAll("line").attr("stroke", "#000").attr("stroke-width", 3.5);
    a.selectAll("text").attr("font-size", 60).attr("font-family", FONT).attr("fill", "#111");
  });

  // plot frame
  g.append("rect").attr("x", 0).attr("y", 0).attr("width", plotW).attr("height", plotH)
    .attr("fill", "none").attr("stroke", "#000").attr("stroke-width", 3.5);

  // panel label
  g.append("text").attr("x", 35).attr("y", 69)
    .attr("font-size", 54).attr("font-family", FONT).attr("fill", "#111")
    .text(panelLabels[i]);

  // stats
  const st = g.append("g").attr("font-size", 61).attr("font-family", FONT).attr("fill", "#111")
    .attr("text-anchor", "middle");
  const lines = [`R=${rValues[i]}`, `MAE=${maeValues[i]}℃`, `RMSE=${rmseValues[i]}℃`];
  lines.forEach((t, k) => {
    st.append("text").attr("x", 1104).attr("y", statsTop[i] + k * 75).text(t);
  });

  // axis labels
  g.append("text").attr("x", plotW / 2).attr("y", plotH + 199)
    .attr("text-anchor", "middle").attr("font-size", 62).attr("font-family", FONT).attr("fill", "#111")
    .text(xLabel);
  g.append("text")
    .attr("transform", `translate(${-141},${plotH / 2}) rotate(-90)`)
    .attr("text-anchor", "middle").attr("font-size", 61).attr("font-family", FONT).attr("fill", "#111")
    .text(yLabel);
});
</script>
</body>
</html>
